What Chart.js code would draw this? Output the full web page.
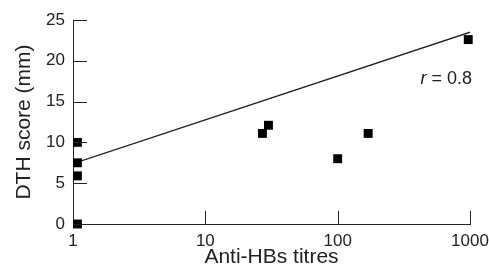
<!DOCTYPE html>
<html>
<head>
<meta charset="utf-8">
<script src="https://cdn.jsdelivr.net/npm/chart.js@4"></script>
<style>
  html, body { margin: 0; padding: 0; background: #fff; }
  #wrap { width: 489px; height: 270px; }
</style>
</head>
<body>
<div id="wrap"><canvas id="myChart" width="489" height="270"></canvas></div>
<script>
// anti-HBs titre and DTH score for each subject
const titres = [1.08, 1.08, 1.08, 1.08, 27, 30, 100, 170, 970];
const dthScores = [10, 7.5, 5.9, 0, 11.1, 12.1, 8, 11.1, 22.6];
// fitted line end points
const fitX = [1, 1000];
const fitY = [7.4, 23.5];
const xTicks = [1, 10, 100, 1000];
const yTicks = [0, 5, 10, 15, 20, 25];
const rLabel = 'r = 0.8';

const font = "'Liberation Sans', Arial, Helvetica, sans-serif";
const ink = '#222';

// tick marks drawn inward from the axes, plus the r label
const innerTicks = {
    id: 'innerTicks',
    afterDraw(chart) {
        const ctx = chart.ctx;
        const x = chart.scales.x, y = chart.scales.y;
        ctx.save();
        ctx.strokeStyle = ink;
        ctx.lineWidth = 1;
        ctx.beginPath();
        yTicks.forEach(v => {
            const py = Math.round(y.getPixelForValue(v)) + 0.5;
            ctx.moveTo(x.left, py);
            ctx.lineTo(x.left + 14, py);
        });
        xTicks.slice(1).forEach(v => {
            const px = Math.round(x.getPixelForValue(v)) + 0.5;
            ctx.moveTo(px, y.bottom);
            ctx.lineTo(px, y.bottom - 13);
        });
        ctx.stroke();
        const rx = x.getPixelForValue(1000) + 2;
        const ry = y.getPixelForValue(17.1);
        ctx.fillStyle = ink;
        ctx.font = '18px ' + font;
        ctx.textAlign = 'right';
        ctx.textBaseline = 'alphabetic';
        const rest = rLabel.slice(1);
        const restW = ctx.measureText(rest).width;
        ctx.fillText(rest, rx, ry);
        ctx.font = 'italic 18px ' + font;
        ctx.fillText(rLabel[0], rx - restW, ry);
        ctx.restore();
    }
};

const ctx = document.getElementById('myChart').getContext('2d');
const myChart = new Chart(ctx, {
    type: 'scatter',
    data: {
        datasets: [{
            label: 'DTH',
            data: titres.map((t, i) => ({x: t, y: dthScores[i]})),
            pointStyle: 'rect',
            pointRadius: 6.3,
            backgroundColor: '#000',
            borderColor: '#000',
            borderWidth: 0,
            clip: false
        }, {
            type: 'line',
            label: 'fit',
            data: fitX.map((t, i) => ({x: t, y: fitY[i]})),
            borderColor: ink,
            borderWidth: 1.3,
            pointRadius: 0,
            fill: false
        }]
    },
    options: {
        responsive: false,
        animation: false,
        layout: { padding: { top: 20, right: 19, left: 0, bottom: 0 } },
        plugins: { legend: { display: false }, tooltip: { enabled: false } },
        scales: {
            x: {
                type: 'logarithmic',
                min: 1,
                max: 1000,
                afterBuildTicks: s => { s.ticks = xTicks.map(v => ({value: v})); },
                afterFit: s => { s.height = 46; s.paddingLeft = 0; s.paddingRight = 0; },
                grid: { display: false, drawTicks: false },
                border: { display: true, color: ink, width: 1 },
                ticks: {
                    color: ink,
                    font: { family: font, size: 17 },
                    padding: 7,
                    maxRotation: 0,
                    callback: v => String(v)
                },
                title: {
                    display: true,
                    text: 'Anti-HBs titres',
                    color: ink,
                    font: { family: font, size: 21 },
                    padding: { top: 0, bottom: 0 }
                }
            },
            y: {
                min: 0,
                max: 25,
                afterBuildTicks: s => { s.ticks = yTicks.map(v => ({value: v})); },
                afterFit: s => { s.width = 73; s.paddingTop = 0; s.paddingBottom = 0; },
                grid: { display: false, drawTicks: false },
                border: { display: true, color: ink, width: 1 },
                ticks: {
                    color: ink,
                    font: { family: font, size: 17 },
                    padding: 8
                },
                title: {
                    display: true,
                    text: 'DTH score (mm)',
                    color: ink,
                    font: { family: font, size: 21 },
                    padding: { top: 12, bottom: 0 }
                }
            }
        }
    },
    plugins: [innerTicks]
});
</script>
</body>
</html>
